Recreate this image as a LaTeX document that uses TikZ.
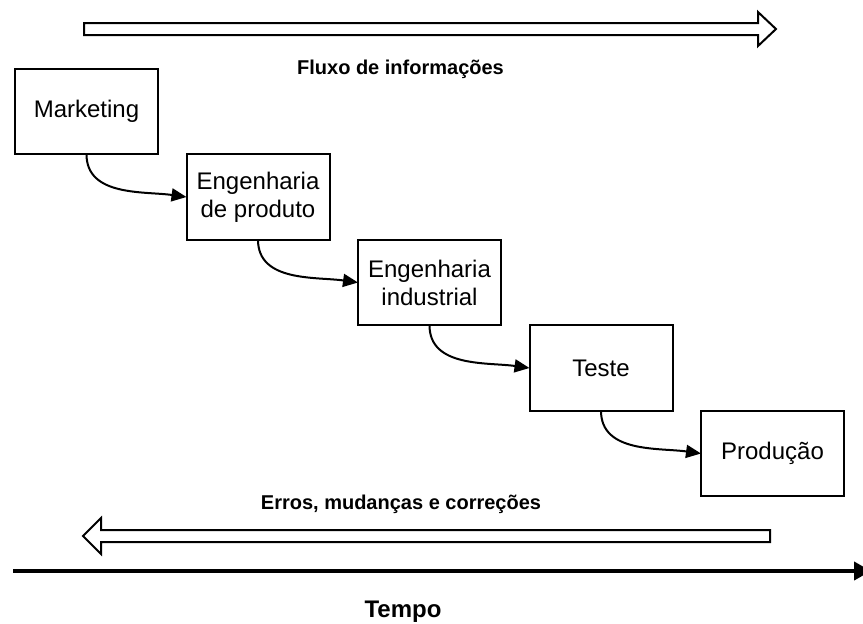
\documentclass[tikz,border=0pt]{standalone}
\usepackage{fontspec}
\setmainfont{Liberation Sans}
\usetikzlibrary{positioning,arrows.meta}
\tikzset{box/.style={shape=rectangle,draw=black,line width=1pt,minimum width=71.5pt,minimum height=42.75pt,inner sep=0pt,outer sep=0pt,align=center,font=\fontsize{12}{14}\selectfont}}
\tikzset{flow/.style={draw=black,line width=1pt,-{Triangle[length=7.5pt,width=6.5pt]}}}
\tikzset{hollow/.style={draw=black,line width=1pt,fill=white,line join=miter}}
\tikzset{caption/.style={anchor=base,inner sep=0pt,font=\fontsize{10}{12}\selectfont\bfseries}}

\begin{document}
\begin{tikzpicture}[x=0.5pt,y=-0.5pt]
  \useasboundingbox (0,0) rectangle (863,623);

  \node (M) [box] at (86.5,111.5) {Marketing};
  \node (EP) [box, below right = 0pt and 14.25pt of M] {Engenharia\\de produto};
  \node (EI) [box, below right = 0pt and 14.25pt of EP] {Engenharia\\industrial};
  \node (T) [box, below right = 0pt and 14.25pt of EI] {Teste};
  \node (P) [box, below right = 0pt and 14.25pt of T] {Produção};

  \draw[flow] (M.south) to[out=-90,in=172] (EP.west);
  \draw[flow] (EP.south) to[out=-90,in=172] (EI.west);
  \draw[flow] (EI.south) to[out=-90,in=172] (T.west);
  \draw[flow] (T.south) to[out=-90,in=172] (P.west);

  \draw[hollow] (84,23) -- (758,23) -- (758,12) -- (776,29) -- (758,46) -- (758,35) -- (84,35) -- cycle;
  \node (F) [caption] at (400.5,74) {Fluxo de informações};

  \node (E) [caption] at (401,509) {Erros, mudanças e correções};
  \draw[hollow] (770,530) -- (101,530) -- (101,518) -- (83,536) -- (101,554) -- (101,542) -- (770,542) -- cycle;

  \coordinate (t0) at (13,571);
  \coordinate (t1) at (871,571);
  \draw[line width=2pt,-{Triangle[length=8.5pt,width=9pt]}] (t0) -- (t1);
  \node (Tp) [caption,font=\fontsize{12}{14}\selectfont\bfseries] at (403,617) {Tempo};
\end{tikzpicture}
\end{document}
